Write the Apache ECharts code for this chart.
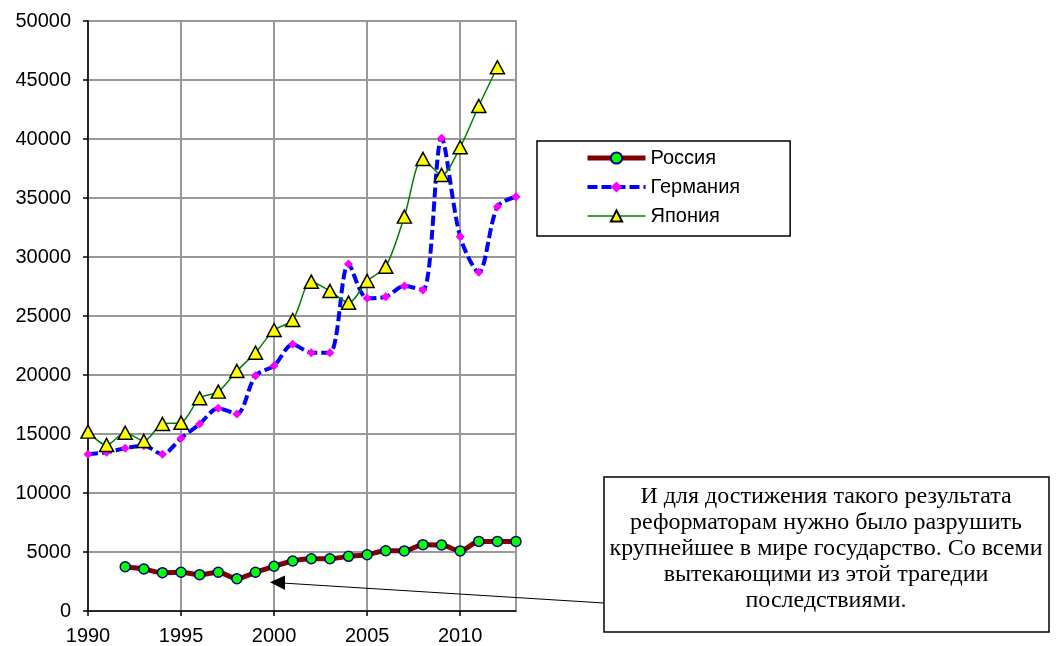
<!DOCTYPE html>
<html>
<head>
<meta charset="utf-8">
<script src="https://cdn.jsdelivr.net/npm/echarts@6/dist/echarts.min.js"></script>
<style>
html,body{margin:0;padding:0;background:#fff;}
#c{width:1058px;height:646px;}
</style>
</head>
<body>
<div id="c"></div>
<script>
var years = [1990,1991,1992,1993,1994,1995,1996,1997,1998,1999,2000,2001,2002,2003,2004,2005,2006,2007,2008,2009,2010,2011,2012,2013];
var russia = [null,null,3750,3560,3250,3280,3080,3280,2740,3280,3790,4240,4430,4430,4630,4770,5110,5090,5620,5590,5090,5900,5900,5900];
var germany = [13280,13450,13790,14000,13280,14640,15850,17180,16700,19940,20790,22600,21890,21890,29410,26500,26640,27540,27200,40060,31720,28700,34260,35110];
var japan = [15200,14070,15110,14410,15850,15960,18030,18590,20340,21890,23810,24660,27910,27120,26130,27970,29180,33420,38310,36950,39300,42800,46080,null];
var seriesNames = ['Россия','Германия','Япония'];
var yTicks = {min:0, max:50000, interval:5000};
var xTicks = {min:1990, max:2013, interval:5};
var xTickLabels = [1990,1995,2000,2005,2010];
var note = 'И для достижения такого результата\nреформаторам нужно было разрушить\nкрупнейшее в мире государство. Со всеми\nвытекающими из этой трагедии\nпоследствиями.';

function pairs(arr){ var out=[]; for(var i=0;i<years.length;i++){ if(arr[i]!==null) out.push([years[i],arr[i]]); } return out; }

var chart = echarts.init(document.getElementById('c'));
var fontSans = '"Liberation Sans", Arial, sans-serif';
var styles = [
  {line:{color:'#800000',width:5}, symbol:'circle', size:10, item:{color:'#00ff00',borderColor:'#000080',borderWidth:1.5}},
  {line:{color:'#0000ff',width:4,type:[10,4]}, symbol:'diamond', size:9, item:{color:'#ff00ff',borderWidth:0}},
  {line:{color:'#008000',width:1.5}, symbol:'triangle', size:[14,13], item:{color:'#ffff00',borderColor:'#000',borderWidth:1.5}}
];
var datasets = [russia, germany, japan];
chart.setOption({
  animation:false,
  backgroundColor:'#fff',
  grid:{left:88,right:542,top:21,bottom:35,show:true,borderColor:'#999',borderWidth:2},
  xAxis:{type:'value',min:xTicks.min,max:xTicks.max,interval:xTicks.interval,
    axisLine:{show:true,onZero:false,lineStyle:{color:'#000',width:1.5}},
    axisTick:{show:true,inside:false,length:5,customValues:xTickLabels,lineStyle:{color:'#000',width:1.5}},
    axisLabel:{color:'#000',fontFamily:fontSans,fontSize:20,margin:15,customValues:xTickLabels,formatter:function(v){return String(v);}},
    splitLine:{show:true,lineStyle:{color:'#999',width:2}}},
  yAxis:{type:'value',min:yTicks.min,max:yTicks.max,interval:yTicks.interval,
    axisLine:{show:true,lineStyle:{color:'#000',width:1.5}},
    axisTick:{show:true,inside:false,length:5,lineStyle:{color:'#000',width:1.5}},
    axisLabel:{color:'#000',fontFamily:fontSans,fontSize:20,margin:17,formatter:function(v){return String(v);}},
    splitLine:{show:true,lineStyle:{color:'#999',width:2}}},
  legend:{orient:'vertical',left:537,top:141,
    padding:[7,50,10,48],itemGap:9,itemWidth:58,itemHeight:14,
    borderColor:'#000',borderWidth:1.5,backgroundColor:'#fff',
    textStyle:{color:'#000',fontFamily:fontSans,fontSize:20},
    data:seriesNames.map(function(n,i){return {name:n,lineStyle:{width:styles[i].line.width}};})},
  series:seriesNames.map(function(n,i){
    return {name:n,type:'line',data:pairs(datasets[i]),smooth:0.3,
      lineStyle:styles[i].line,symbol:styles[i].symbol,symbolSize:styles[i].size,
      itemStyle:styles[i].item};
  }),
  graphic:[
    {type:'line',shape:{x1:604,y1:603,x2:282,y2:583},style:{stroke:'#000',lineWidth:1.2},z:10},
    {type:'polygon',shape:{points:[[270,582.3],[285,575.5],[285,590]]},style:{fill:'#000'},z:10},
    {type:'rect',shape:{x:604,y:477,width:445,height:155},style:{fill:'#fff',stroke:'#000',lineWidth:1.5},z:10},
    {type:'text',x:826,y:484,z:11,
      style:{text:note,fill:'#000',font:'24px "Liberation Serif", "Times New Roman", serif',
        align:'center',verticalAlign:'top',lineHeight:26}}
  ]
});
</script>
</body>
</html>
